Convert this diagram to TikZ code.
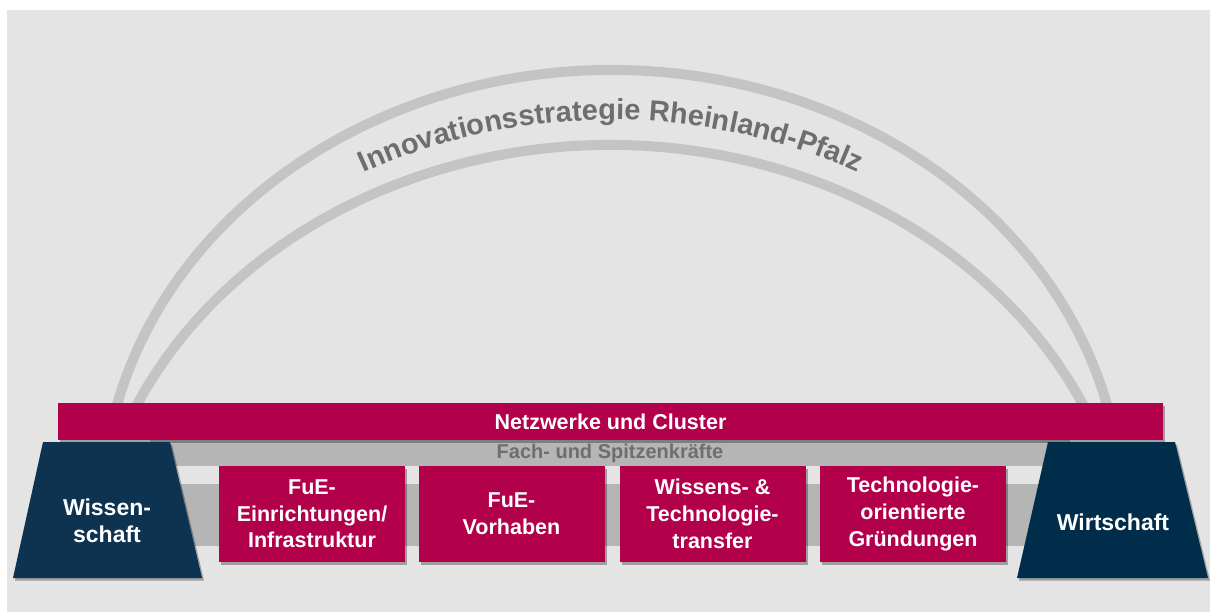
\documentclass[tikz,border=0pt]{standalone}
\usepackage{fontspec}
\setmainfont{Liberation Sans}
\usetikzlibrary{decorations.text,shadows,calc}
\definecolor{bgcol}{HTML}{E4E4E4}
\definecolor{arcgray}{HTML}{C4C4C4}
\definecolor{rlpred}{HTML}{B2004B}
\definecolor{navyL}{HTML}{0D3350}
\definecolor{navyR}{HTML}{002E4A}
\definecolor{bandgray}{HTML}{B5B5B5}
\definecolor{txtgray}{HTML}{6E6E6E}
\begin{document}
\begin{tikzpicture}[x=1pt,y=1pt,
  arcline/.style={draw=arcgray,line width=10pt},
  softshadow/.style={drop shadow={shadow xshift=2pt,shadow yshift=-2.5pt,opacity=0.3,fill=black}},
  redbox/.style={fill=rlpred,text=white,font=\bfseries\fontsize{21.5}{26.7}\selectfont,
    align=center,minimum width=186pt,minimum height=96pt,inner sep=0pt,softshadow},
  navytext/.style={text=white,font=\bfseries\fontsize{23}{27}\selectfont,align=center,inner sep=0pt},
  bartext/.style={fill=rlpred,text=white,font=\bfseries\fontsize{21.5}{26}\selectfont,
    minimum width=1105pt,minimum height=37pt,inner sep=0pt,softshadow},
  bandtext/.style={fill=bandgray,text=txtgray,font=\bfseries\fontsize{20}{22}\selectfont,
    minimum width=920pt,minimum height=26pt,inner sep=0pt}]
\useasboundingbox (0,0) rectangle (1210,-612);
\fill[bgcol] (7,-10) rectangle (1210,-612);
% arcs
\draw[arcline] ($(612,-511)+(168.1:510pt and 441pt)$) arc[start angle=168.1,end angle=11.9,x radius=510pt,y radius=441pt];
\draw[arcline] ($(610,-595)+(157.1:522pt and 450pt)$) arc[start angle=157.1,end angle=22.9,x radius=522pt,y radius=450pt];
% curved title
\path[decorate,decoration={text along path,text align=center,
  text={|\bfseries\fontsize{29}{29}\selectfont\color{txtgray}|Innovationsstrategie Rheinland-Pfalz}}]
  ($(611,-553)+(165:516pt and 433pt)$) arc[start angle=165,end angle=15,x radius=516pt,y radius=433pt];
% bands
\fill[bandgray] (170,-484) rectangle (1050,-546);
\node[bandtext] (fach) at (610,-453) {Fach- und Spitzenkräfte};
\node[bartext] (netz) at (610.5,-421.5) {Netzwerke und Cluster};
% pillars
\fill[navyL,softshadow] (13,-578) -- (202,-578) -- (170,-442) -- (43,-442) -- cycle;
\fill[navyR,softshadow] (1017,-578) -- (1208,-578) -- (1175,-442) -- (1048,-442) -- cycle;
\node[navytext] (wiss) at (107,-521) {Wissen-\\schaft};
\node[navytext] (wirt) at (1113,-522) {Wirtschaft};
% boxes
\node[redbox] (b1) at (312,-514) {FuE-\\Einrichtungen/\\Infrastruktur};
\node[redbox] (b2) at (511.5,-514) {FuE-\\Vorhaben};
\node[redbox] (b3) at (712.5,-514) {Wissens- \&\\Technologie-\\transfer};
\node[redbox] (b4) at (913,-514) {Technologie-\\orientierte\\Gründungen};
\end{tikzpicture}
\end{document}
